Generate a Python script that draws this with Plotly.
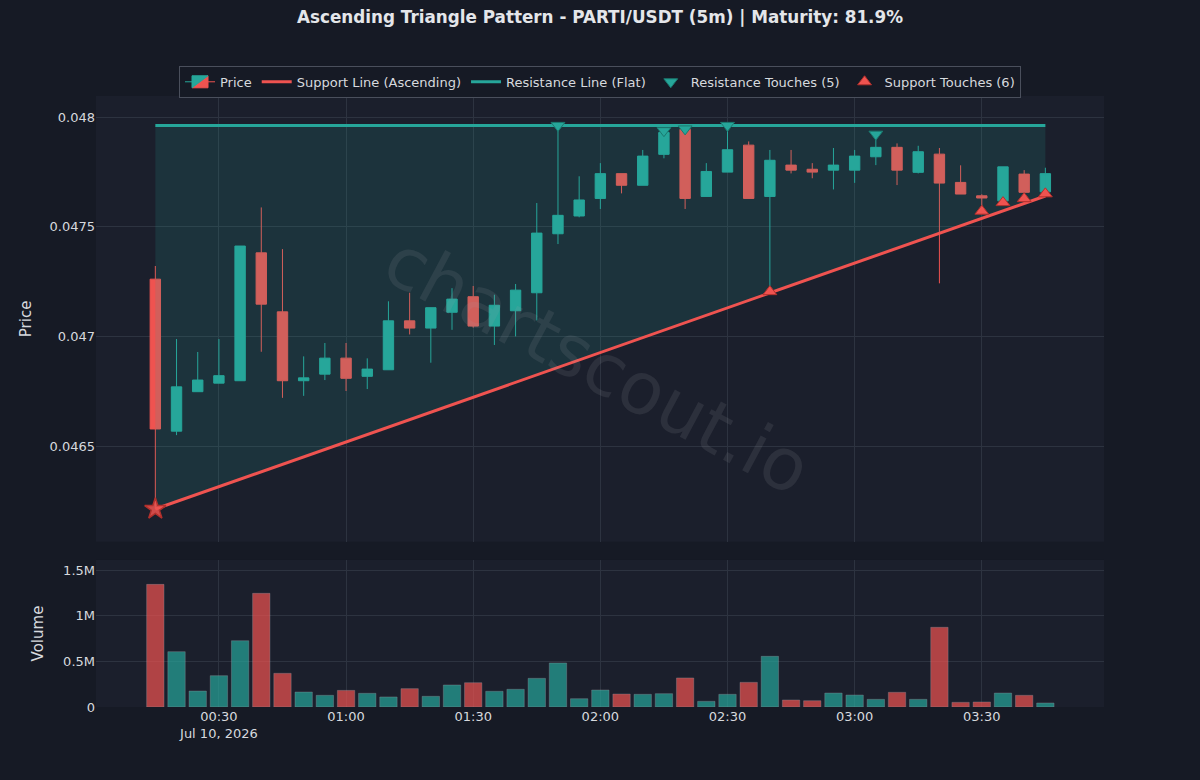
import pandas as pd
import plotly.graph_objects as go

# ---------------- data ----------------
times = pd.date_range("2026-07-10 00:15", periods=43, freq="5min")

opens = [0.047261, 0.046568, 0.046748, 0.046787, 0.046798, 0.047381, 0.047112, 0.046798,
         0.046828, 0.046901, 0.046818, 0.046848, 0.047071, 0.047038, 0.047110, 0.047181,
         0.047047, 0.047117, 0.047199, 0.047468, 0.047549, 0.047629, 0.047742, 0.047689,
         0.047830, 0.047944, 0.047638, 0.047749, 0.047872, 0.047638, 0.047781, 0.047762,
         0.047758, 0.047758, 0.047819, 0.047862, 0.047748, 0.047831, 0.047702, 0.047641,
         0.047618, 0.047740, 0.047659]
highs = [0.047321, 0.046988, 0.046929, 0.046988, 0.047412, 0.047588, 0.047398, 0.046909,
         0.046970, 0.046970, 0.046900, 0.047160, 0.047199, 0.047131, 0.047220, 0.047230,
         0.047190, 0.047239, 0.047608, 0.047962, 0.047730, 0.047790, 0.047742, 0.047850,
         0.047938, 0.047946, 0.047790, 0.047962, 0.047889, 0.047850, 0.047850, 0.047790,
         0.047859, 0.047850, 0.047922, 0.047880, 0.047869, 0.047859, 0.047780, 0.047648,
         0.047773, 0.047758, 0.047769]
lows = [0.046213, 0.046550, 0.046748, 0.046787, 0.046798, 0.046930, 0.046720, 0.046729,
        0.046801, 0.046751, 0.046760, 0.046848, 0.047009, 0.046880, 0.047030, 0.047040,
        0.046961, 0.047000, 0.047073, 0.047421, 0.047543, 0.047581, 0.047652, 0.047689,
        0.047812, 0.047581, 0.047638, 0.047749, 0.047629, 0.047204, 0.047743, 0.047721,
        0.047670, 0.047700, 0.047781, 0.047690, 0.047743, 0.047242, 0.047649, 0.047571,
        0.047610, 0.047628, 0.047650]
closes = [0.046578, 0.046770, 0.046801, 0.046821, 0.047412, 0.047147, 0.046798, 0.046811,
          0.046901, 0.046809, 0.046851, 0.047071, 0.047038, 0.047131, 0.047170, 0.047047,
          0.047142, 0.047211, 0.047471, 0.047552, 0.047622, 0.047742, 0.047689, 0.047822,
          0.047930, 0.047629, 0.047752, 0.047851, 0.047629, 0.047803, 0.047758, 0.047749,
          0.047781, 0.047822, 0.047862, 0.047758, 0.047842, 0.047699, 0.047649, 0.047631,
          0.047773, 0.047657, 0.047742]
volumes = [1343000, 606000, 175000, 343000, 726000, 1245000, 369000, 164000,
           128000, 182000, 150000, 110000, 201000, 117000, 241000, 266000,
           172000, 194000, 314000, 482000, 91000, 186000, 142000, 139000,
           146000, 318000, 62000, 139000, 270000, 555000, 77000, 69000,
           153000, 131000, 84000, 161000, 84000, 873000, 51000, 55000,
           153000, 128000, 44000]

resistance_level = 0.047962
support_start = 0.046213
support_end = 0.047640
resistance_touch_idx = [19, 24, 25, 27, 34]
support_touch_idx = [29, 39, 40, 41, 42]
start_idx = 0

title_text = "Ascending Triangle Pattern - PARTI/USDT (5m) | Maturity: 81.9%"

# ---------------- styles ----------------
UP = "#26a69a"
DOWN = "#ef5350"
FONT = "DejaVu Sans"
TXT = "#d6d9de"
GRID = "#2d3340"

t0, t1 = times[0], times[-1]

fig = go.Figure()

fig.add_trace(go.Candlestick(
    x=times, open=opens, high=highs, low=lows, close=closes, name="Price",
    increasing=dict(line=dict(color=UP, width=1), fillcolor=UP),
    decreasing=dict(line=dict(color=DOWN, width=1), fillcolor=DOWN),
    xaxis="x", yaxis="y",
))

# triangle area fill
fig.add_trace(go.Scatter(
    x=[t0, t1, t1, t0, t0],
    y=[resistance_level, resistance_level, support_end, support_start, resistance_level],
    mode="lines", fill="toself", fillcolor="rgba(38,166,154,0.15)",
    line=dict(width=0), showlegend=False, hoverinfo="skip",
    xaxis="x", yaxis="y",
))

fig.add_trace(go.Scatter(
    x=[t0, t1], y=[support_start, support_end], mode="lines",
    name="Support Line (Ascending)", line=dict(color=DOWN, width=3),
    xaxis="x", yaxis="y",
))
fig.add_trace(go.Scatter(
    x=[t0, t1], y=[resistance_level, resistance_level], mode="lines",
    name="Resistance Line (Flat)", line=dict(color=UP, width=3),
    xaxis="x", yaxis="y",
))
fig.add_trace(go.Scatter(
    x=[times[i] for i in resistance_touch_idx],
    y=[highs[i] for i in resistance_touch_idx],
    mode="markers", name="Resistance Touches (5)",
    marker=dict(symbol="triangle-down", size=12, color=UP,
                line=dict(color="#1b7a70", width=1)),
    xaxis="x", yaxis="y",
))
fig.add_trace(go.Scatter(
    x=[times[i] for i in support_touch_idx],
    y=[lows[i] for i in support_touch_idx],
    mode="markers", name="Support Touches (6)",
    marker=dict(symbol="triangle-up", size=12, color=DOWN,
                line=dict(color="#b3302c", width=1)),
    xaxis="x", yaxis="y",
))
fig.add_trace(go.Scatter(
    x=[times[start_idx]], y=[lows[start_idx]], mode="markers",
    marker=dict(symbol="star", size=16, color="rgba(239,83,80,0.85)",
                line=dict(color="#b3302c", width=1.5)),
    showlegend=False, hoverinfo="skip", xaxis="x", yaxis="y",
))

vol_colors = [UP if c >= o else DOWN for o, c in zip(opens, closes)]
fig.add_trace(go.Bar(
    x=times, y=volumes, marker=dict(color=vol_colors, opacity=0.7,
                                    line=dict(color="rgba(200,200,210,0.35)", width=1)),
    showlegend=False, name="Volume", xaxis="x2", yaxis="y2",
))

xr = ["2026-07-10 00:01:00", "2026-07-10 03:58:50"]

fig.update_layout(
    width=1200, height=780,
    paper_bgcolor="#161a25", plot_bgcolor="#1b1f2c",
    font=dict(family=FONT, color=TXT, size=13),
    margin=dict(l=96, r=96, t=96, b=73),
    title=dict(text="<b>" + title_text + "</b>", x=0.5, xanchor="center",
               y=0.978, yanchor="middle", font=dict(size=16.8, color="#e4e6ea")),
    legend=dict(orientation="h", x=0.5, xanchor="center", y=0.997, yanchor="bottom",
                bgcolor="#161a25", bordercolor="#4a4f5c", borderwidth=1,
                font=dict(size=13, color=TXT)),
    showlegend=True,
    xaxis=dict(domain=[0, 1], anchor="y", range=xr, showticklabels=False,
               gridcolor=GRID, zeroline=False, rangeslider=dict(visible=False),
               matches="x2", showline=False),
    xaxis2=dict(domain=[0, 1], anchor="y2", range=xr, gridcolor=GRID,
                zeroline=False, tickfont=dict(size=13), showline=False),
    yaxis=dict(domain=[0.2705, 1], range=[0.046064, 0.048096], gridcolor=GRID,
               zeroline=False, title=dict(text="Price", font=dict(size=15), standoff=14),
               tickfont=dict(size=13), dtick=0.0005, tick0=0.0465),
    yaxis2=dict(domain=[0, 0.2406], range=[0, 1.61e6], gridcolor=GRID,
                zeroline=False, title=dict(text="Volume", font=dict(size=15)),
                tickfont=dict(size=13), dtick=500000),
    bargap=0.18,
    annotations=[dict(text="chartscout.io", x=0.498, y=0.56, xref="paper", yref="paper",
                      showarrow=False, textangle=28,
                      font=dict(size=72, color="rgba(160,160,170,0.13)", family=FONT))],
)

fig.write_html("out.html")
